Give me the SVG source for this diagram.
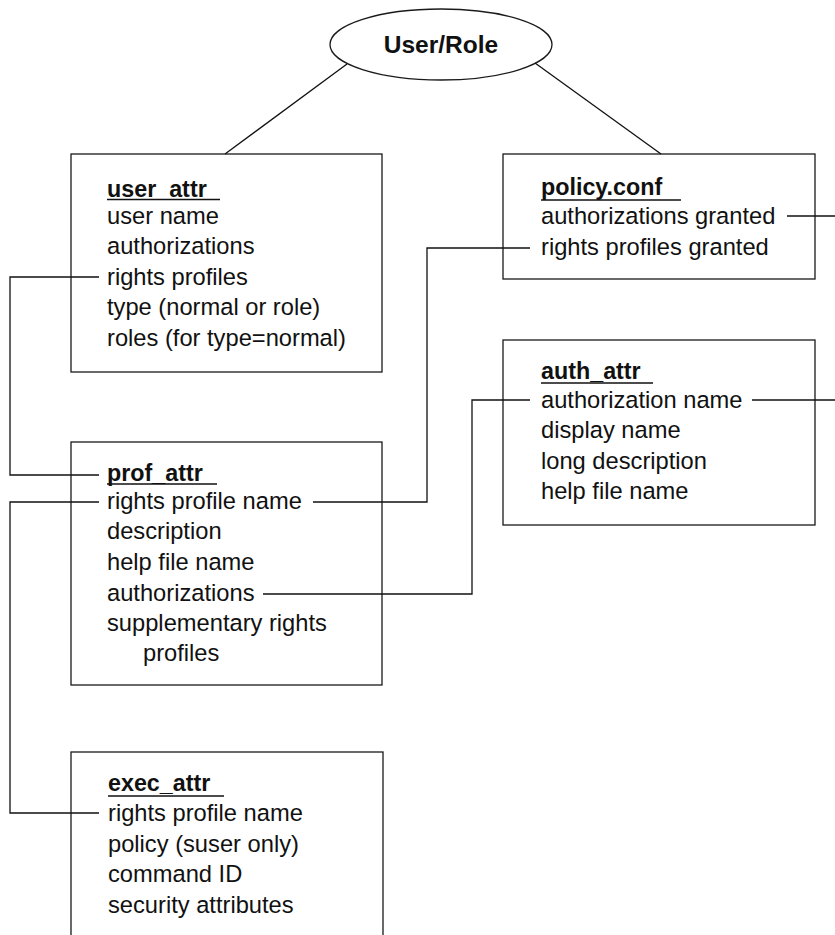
<svg xmlns="http://www.w3.org/2000/svg" width="835" height="935" viewBox="0 0 835 935">
<style>
.box{fill:#fff;stroke:#1a1a1a;stroke-width:1.3}
.t{font-family:"Liberation Sans",Arial,Helvetica,sans-serif;font-size:23.7px;fill:#111}
.h{font-family:"Liberation Sans",Arial,Helvetica,sans-serif;font-size:23.3px;font-weight:bold;fill:#111}
.ul{stroke:#111;stroke-width:1.6}
.c{fill:none;stroke:#111;stroke-width:1.3}
</style>
<rect width="835" height="935" fill="#fff"/>
<g id="user_role">
<ellipse cx="441" cy="44.5" rx="111" ry="35.5" fill="#fff" stroke="#1a1a1a" stroke-width="1.3"/>
<text x="441" y="53" text-anchor="middle" class="h" style="font-size:24.5px">User/Role</text>
</g>
<g id="user_attr">
<rect class="box" x="71" y="154" width="311" height="218"/>
<text class="h" x="107" y="197">user_attr</text>
<line class="ul" x1="107" y1="199.5" x2="220" y2="199.5"/>
<text class="t" x="107" y="223.5">user name</text>
<text class="t" x="107" y="254">authorizations</text>
<text class="t" x="107" y="284.5">rights profiles</text>
<text class="t" x="107" y="315">type (normal or role)</text>
<text class="t" x="107" y="345.5">roles (for type=normal)</text>
</g>
<g id="policy_conf">
<rect class="box" x="503" y="154" width="312" height="125"/>
<text class="h" x="541" y="195">policy.conf</text>
<line class="ul" x1="541" y1="200" x2="681" y2="200"/>
<text class="t" x="541" y="223.5">authorizations granted</text>
<text class="t" x="541" y="254.5">rights profiles granted</text>
</g>
<g id="auth_attr">
<rect class="box" x="503" y="340" width="312" height="185"/>
<text class="h" x="541" y="379">auth_attr</text>
<line class="ul" x1="541" y1="383" x2="653" y2="383"/>
<text class="t" x="541" y="407.5">authorization name</text>
<text class="t" x="541" y="438">display name</text>
<text class="t" x="541" y="468.5">long description</text>
<text class="t" x="541" y="499">help file name</text>
</g>
<g id="prof_attr">
<rect class="box" x="71" y="442" width="311" height="243"/>
<text class="h" x="107" y="481">prof_attr</text>
<line class="ul" x1="107" y1="484" x2="217" y2="484"/>
<text class="t" x="107" y="509">rights profile name</text>
<text class="t" x="107" y="539.4">description</text>
<text class="t" x="107" y="569.8">help file name</text>
<text class="t" x="107" y="600.5">authorizations</text>
<text class="t" x="107" y="630.6">supplementary rights</text>
<text class="t" x="143" y="661">profiles</text>
</g>
<g id="exec_attr">
<rect class="box" x="71" y="752" width="312" height="200"/>
<text class="h" x="108" y="791">exec_attr</text>
<line class="ul" x1="108" y1="796" x2="224" y2="796"/>
<text class="t" x="108" y="821">rights profile name</text>
<text class="t" x="108" y="851.5">policy (suser only)</text>
<text class="t" x="108" y="882">command ID</text>
<text class="t" x="108" y="912.5">security attributes</text>
</g>
<g id="connectors">
<line class="c" x1="347" y1="64" x2="225" y2="154"/>
<line class="c" x1="535" y1="63" x2="661" y2="154"/>
<polyline class="c" points="99,277 10,277 10,475 99,475"/>
<polyline class="c" points="530,248 427,248 427,502 313,502"/>
<polyline class="c" points="99,502 10,502 10,813 99,813"/>
<polyline class="c" points="263,594 472,594 472,400 530,400"/>
<line class="c" x1="787" y1="216" x2="835" y2="216"/>
<line class="c" x1="752" y1="400" x2="835" y2="400"/>
</g>
</svg>
